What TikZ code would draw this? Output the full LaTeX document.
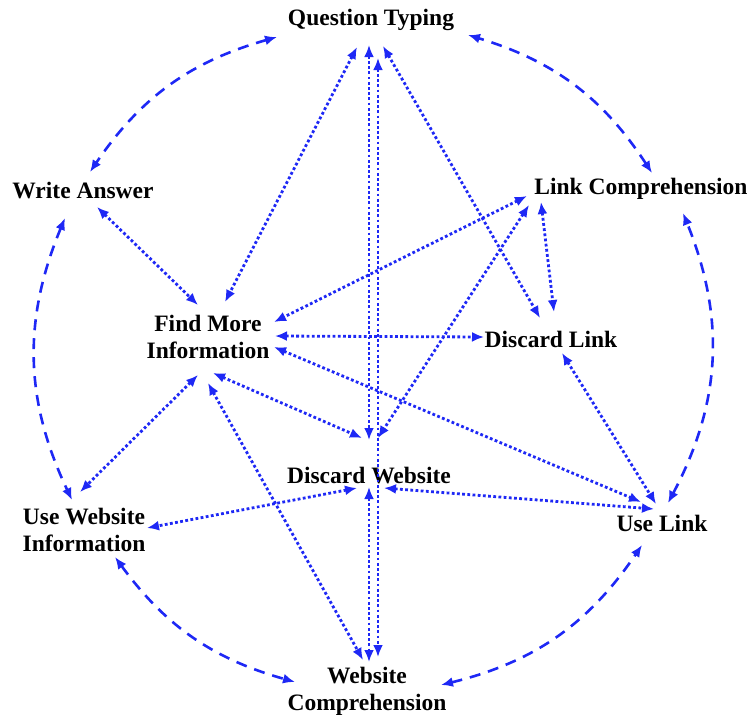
\documentclass[tikz,border=0pt]{standalone}
\usepackage{fontspec}
\setmainfont{Liberation Serif}
\usetikzlibrary{arrows.meta}

\definecolor{linkblue}{RGB}{30,40,245}

\tikzset{
  stagebox/.style={font=\fontsize{23.5}{27}\selectfont\bfseries, align=center, inner sep=0pt},
  dotlink/.style={linkblue, line width=2.8pt, dash pattern=on 2.8pt off 2.4pt,
    {Latex[length=12pt,width=10pt]}-{Latex[length=12pt,width=10pt]}},
  ringlink/.style={linkblue, line width=2.6pt, dash pattern=on 11pt off 8pt,
    {Latex[length=12pt,width=10pt]}-{Latex[length=12pt,width=10pt]}}
}

\begin{document}
\begin{tikzpicture}[x=1pt,y=-1pt]

  \useasboundingbox (0,0) rectangle (752,718); %% page

  %% stages
  \node[stagebox] (qt)  at (371,20)  {Question Typing};
  \node[stagebox] (lc)  at (641,189) {Link Comprehension};
  \node[stagebox] (wa)  at (83,191)  {Write Answer};
  \node[stagebox] (fmi) at (208,337) {Find More\\Information};
  \node[stagebox] (dl)  at (551,339) {Discard Link};
  \node[stagebox] (dw)  at (369,476) {Discard Website};
  \node[stagebox] (ul)  at (662,523) {Use Link};
  \node[stagebox] (uwi) at (84,530)  {Use Website\\Information};
  \node[stagebox] (wc)  at (367,691) {Website\\Comprehension};

  %% outer ring
  \draw[ringlink] ([shift={(-94,17)}]qt.center) to[bend right=20] ([shift={(7,-19)}]wa.center);
  \draw[ringlink] ([shift={(-18,27)}]wa.center) to[bend right=24] ([shift={(-12,-30)}]uwi.center);
  \draw[ringlink] ([shift={(31,27)}]uwi.center) to[bend right=19] ([shift={(-72,-9)}]wc.center);
  \draw[ringlink] ([shift={(74,-6)}]wc.center) to[bend right=21] ([shift={(-20,22)}]ul.center);
  \draw[ringlink] ([shift={(6,-20)}]ul.center) to[bend right=25] ([shift={(42,24)}]lc.center);
  \draw[ringlink] ([shift={(11,-16)}]lc.center) to[bend right=20] ([shift={(97,15)}]qt.center);

  %% inner links
  \draw[dotlink] ([shift={(-14,27)}]qt.center) -- ([shift={(17,-35)}]fmi.center);
  \draw[dotlink] ([shift={(-2,25)}]qt.center) -- ([shift={(0,-36)}]dw.center);
  \draw[dotlink] ([shift={(7,38)}]qt.center) -- ([shift={(11,-34)}]wc.center);
  \draw[dotlink] ([shift={(0,11)}]dw.center) -- ([shift={(2,-29)}]wc.center);
  \draw[dotlink] ([shift={(12,26)}]qt.center) -- ([shift={(-11,-21)}]dl.center);

  \draw[dotlink] ([shift={(-114,7)}]lc.center) -- ([shift={(66,-15)}]fmi.center);
  \draw[dotlink] ([shift={(-112,16)}]lc.center) -- ([shift={(9,-38)}]dw.center);
  \draw[dotlink] ([shift={(-100,13)}]lc.center) -- ([shift={(3,-27)}]dl.center);

  \draw[dotlink] ([shift={(67,-1)}]fmi.center) -- ([shift={(-67,-2)}]dl.center);
  \draw[dotlink] ([shift={(66,10)}]fmi.center) -- ([shift={(-21,-21)}]ul.center);
  \draw[dotlink] ([shift={(11,14)}]dl.center) -- ([shift={(-6,-19)}]ul.center);
  \draw[dotlink] ([shift={(15,12)}]dw.center) -- ([shift={(-8,-14)}]ul.center);

  \draw[dotlink] ([shift={(5,36)}]fmi.center) -- ([shift={(-7,-38)}]dw.center);
  \draw[dotlink] ([shift={(-10,38)}]fmi.center) -- ([shift={(-4,-38)}]uwi.center);
  \draw[dotlink] ([shift={(0,46)}]fmi.center) -- ([shift={(-4,-31)}]wc.center);
  \draw[dotlink] ([shift={(14,16)}]wa.center) -- ([shift={(-10,-32)}]fmi.center);
  \draw[dotlink] ([shift={(-12,12)}]dw.center) -- ([shift={(63,-2)}]uwi.center);

\end{tikzpicture}
\end{document}
